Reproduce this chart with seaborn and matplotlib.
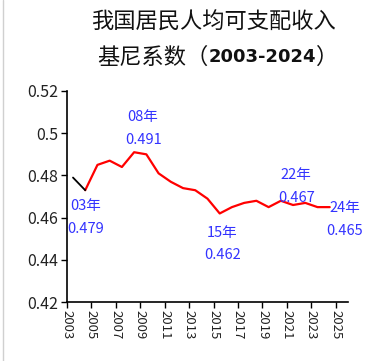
import matplotlib
matplotlib.use("Agg")
import matplotlib.pyplot as plt
from matplotlib.lines import Line2D
import seaborn as sns
import pandas as pd

years = [2003, 2004, 2005, 2006, 2007, 2008, 2009, 2010, 2011, 2012, 2013,
         2014, 2015, 2016, 2017, 2018, 2019, 2020, 2021, 2022, 2023, 2024]
gini = [0.479, 0.473, 0.485, 0.487, 0.484, 0.491, 0.490, 0.481, 0.477, 0.474,
        0.473, 0.469, 0.462, 0.465, 0.467, 0.468, 0.465, 0.468, 0.466, 0.467,
        0.465, 0.465]
label_years = [2003, 2008, 2015, 2022, 2024]
label_texts = ["03年\n0.479", "08年\n0.491", "15年\n0.462", "22年\n0.467", "24年\n0.465"]
label_offsets = [(9, -29), (6.5, 17), (2, -22), (-6.5, 12), (11, -9)]
yticks = [0.42, 0.44, 0.46, 0.48, 0.50, 0.52]
ytick_labels = ["0.42", "0.44", "0.46", "0.48", "0.5", "0.52"]
xticks = list(range(2003, 2026, 2))

sns.set_theme(style="white")
plt.rcParams['font.family'] = ['Noto Sans CJK SC', 'DejaVu Sans']

df = pd.DataFrame({"year": years, "gini": gini})
df["x"] = df["year"] + 0.5

fig = plt.figure(figsize=(3.8, 3.61), dpi=100)
ax = fig.add_axes([0.176, 0.163, 0.74, 0.585])

sns.lineplot(data=df.iloc[1:], x="x", y="gini", color="#ff0000", linewidth=1.6, ax=ax)
sns.lineplot(data=df.iloc[:2], x="x", y="gini", color="#000000", linewidth=1.3, ax=ax)

for yr, txt, (dx, dy) in zip(label_years, label_texts, label_offsets):
    val = gini[years.index(yr)]
    ax.annotate(txt, xy=(yr + 0.5, val), xytext=(dx, dy), textcoords="offset points",
                ha="center", va="center", color="#3333ff", fontsize=10.5,
                linespacing=1.8, family=['Noto Sans CJK SC', 'DejaVu Sans'])

ax.set_xlim(2003, 2026)
ax.set_ylim(0.42, 0.52)
ax.set_yticks(yticks)
ax.set_yticklabels(ytick_labels, fontsize=11.5, color="#222222")
ax.set_xticks(xticks)
ax.set_xticklabels([str(x) for x in xticks], rotation=270, fontsize=9.5, color="#222222")
ax.set_xlabel("")
ax.set_ylabel("")
for s in ["top", "right"]:
    ax.spines[s].set_visible(False)
for s in ["left", "bottom"]:
    ax.spines[s].set_color("black")
    ax.spines[s].set_linewidth(1.2)
ax.tick_params(axis="both", direction="out", length=4, width=1, color="black",
               left=True, bottom=True, pad=2)

# title
fig.text(0.562, 0.939, "我国居民人均可支配收入", ha="center", va="center",
         fontsize=16, color="#111111")
renderer = fig.canvas.get_renderer()
t1 = fig.text(97 / 380, 0.842, "基尼系数（", ha="left", va="center", fontsize=16,
              color="#111111")
bb = t1.get_window_extent(renderer)
x2 = bb.x1 / fig.bbox.width
t2 = fig.text(x2, 0.842, "2003-2024", ha="left", va="center", fontsize=13,
              fontweight="bold", color="#111111", family=['DejaVu Sans'])
bb2 = t2.get_window_extent(renderer)
fig.text(bb2.x1 / fig.bbox.width, 0.842, "）", ha="left", va="center", fontsize=16,
         color="#111111")

fig.add_artist(Line2D([3 / 380, 3 / 380], [0, 1], transform=fig.transFigure,
                      color="#d0d0d0", linewidth=1))

fig.savefig("out.png", dpi=100)
